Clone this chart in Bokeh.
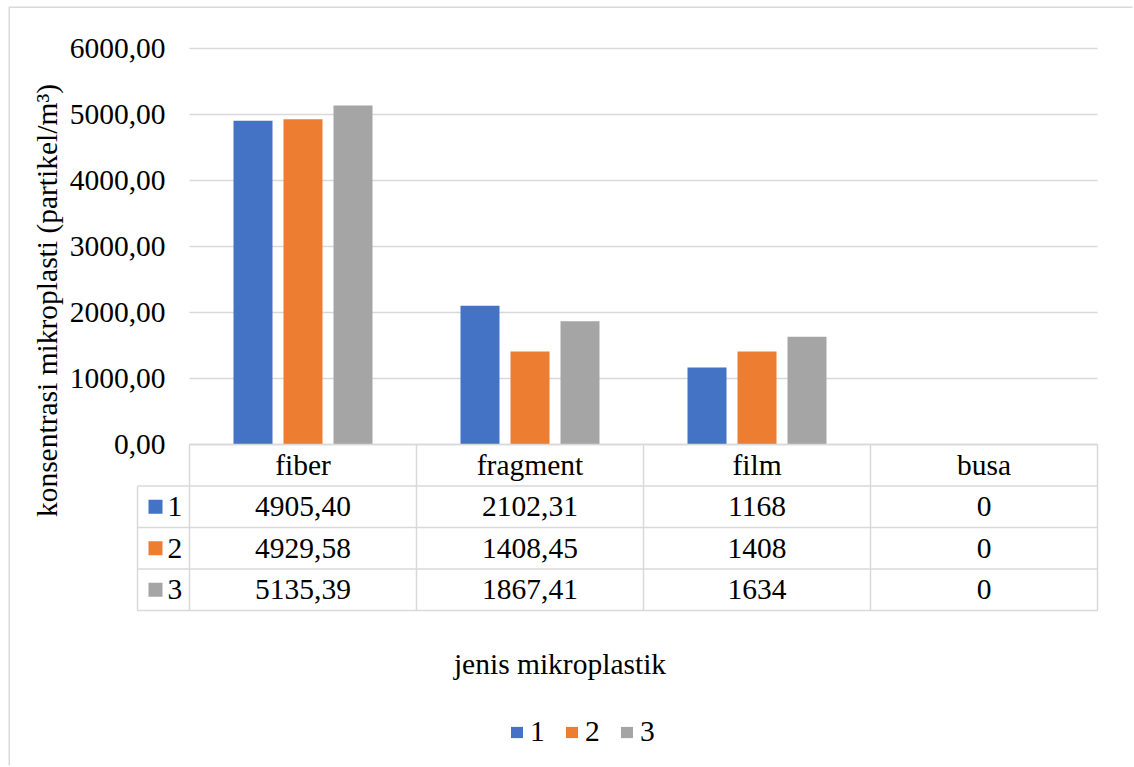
from bokeh.core.properties import value
from bokeh.embed import file_html
from bokeh.models import ColumnDataSource, FixedTicker, Legend, LegendItem, Range1d
from bokeh.plotting import figure
from bokeh.resources import INLINE

# ---- data -------------------------------------------------------------
categories = ["fiber", "fragment", "film", "busa"]
series_names = ["1", "2", "3"]
series_1 = [4905.40, 2102.31, 1168, 0]
series_2 = [4929.58, 1408.45, 1408, 0]
series_3 = [5135.39, 1867.41, 1634, 0]
table_decimals = [2, 2, 0, 0]          # number format used per column of the data table
y_ticks = [0, 1000, 2000, 3000, 4000, 5000, 6000]
x_title = "jenis mikroplastik"
y_title = "konsentrasi mikroplasti (partikel/m³)"

# ---- style / geometry --------------------------------------------------
colors = ["#4472C4", "#ED7D31", "#A5A5A5"]
FONT_NAME = "'Liberation Serif', 'Times New Roman', 'DejaVu Serif', serif"
FONT = value(FONT_NAME)
FS = "29.5px"
INK = "#000000"
RULE = "#D9D9D9"

OFF_X, OFF_Y = 10, 8                     # chart-area inset on the page
PAGE_W, PAGE_H = 1134, 767
W, H = PAGE_W - OFF_X, PAGE_H - OFF_Y
PLOT_L, PLOT_R, PLOT_T, ZERO_Y = 189, 1097, 48, 444   # page px
ROW_H = 41.5
COL_W = (PLOT_R - PLOT_L) / len(categories)
KEY_L = 137
BAR_W, BAR_STEP = 39, 50
Y_TITLE_MID = 300                        # vertical centre of the y-axis title


def sx(px):
    """page px -> category-column coordinate (column i spans i..i+1)"""
    return (px - PLOT_L) / COL_W


def row(py):
    """page px -> table-row coordinate (0 = top of the table, grows downward)"""
    return (py - ZERO_Y) / ROW_H


def fmt(v, d):
    return f"{v:.{d}f}".replace(".", ",")


px_per_unit = (ZERO_Y - PLOT_T) / max(y_ticks)
y_max = max(y_ticks)

p = figure(
    width=W, height=H,
    x_range=Range1d(sx(OFF_X), sx(PAGE_W)),
    y_range=Range1d(-(PAGE_H - ZERO_Y) / px_per_unit, y_max + (PLOT_T - OFF_Y) / px_per_unit),
    output_backend="svg", toolbar_location=None,
    min_border_left=0, min_border_right=0, min_border_top=0, min_border_bottom=0,
    x_axis_location=None,
)
p.extra_y_ranges = {"tbl": Range1d(row(PAGE_H), row(OFF_Y))}
p.margin = (OFF_Y, 0, 0, OFF_X)
p.styles = {"box-shadow": "-1.5px -1.5px 0 0 #D9D9D9"}
p.outline_line_color = None
p.background_fill_color = "white"
p.border_fill_color = "white"
p.xgrid.visible = False
p.ygrid.visible = False

# ---- y axis, pinned to the left edge of the plot area -------------------
ax = p.yaxis[0]
ax.fixed_location = 0
ax.ticker = FixedTicker(ticks=y_ticks)
# axis extent chosen so that its (centred) title sits where the chart puts it
ax.bounds = (-(2 * Y_TITLE_MID - PLOT_T - ZERO_Y) / px_per_unit, y_max)
ax.major_label_overrides = {t: fmt(t, 2) for t in y_ticks}
ax.axis_line_color = None
ax.major_tick_line_color = None
ax.minor_tick_line_color = None
ax.major_label_standoff = 18
ax.major_label_text_font = FONT_NAME
ax.major_label_text_font_size = FS
ax.major_label_text_color = INK
ax.axis_label = y_title
ax.axis_label_standoff = 4
ax.axis_label_text_font = FONT_NAME
ax.axis_label_text_font_size = FS
ax.axis_label_text_font_style = "normal"
ax.axis_label_text_color = INK

n_cols = len(categories)
# horizontal gridlines across the plot area at each tick
p.segment(x0=[0] * len(y_ticks), y0=y_ticks, x1=[n_cols] * len(y_ticks), y1=y_ticks,
          line_color=RULE, line_width=1.3)

# ---- bars ------------------------------------------------------------
series = [series_1, series_2, series_3]
centers = [i + 0.5 for i in range(n_cols)]
bar_renderers = []
for k, vals in enumerate(series):
    src = ColumnDataSource(dict(x=[c + (k - 1) * BAR_STEP / COL_W for c in centers],
                                top=vals, cat=categories))
    r = p.vbar(x="x", top="top", width=BAR_W / COL_W, source=src,
               fill_color=colors[k], line_color=None)
    bar_renderers.append(r)

# ---- data table under the plot ---------------------------------------
n_rows = 1 + len(series)
key_x = sx(KEY_L)
x0 = [0] + [key_x] * n_rows + [key_x] + list(range(n_cols + 1))
y0 = list(range(n_rows + 1)) + [1] + [0] * (n_cols + 1)
x1 = [n_cols] * (n_rows + 1) + [key_x] + list(range(n_cols + 1))
y1 = list(range(n_rows + 1)) + [n_rows] + [n_rows] * (n_cols + 1)
p.segment(x0=x0, y0=y0, x1=x1, y1=y1, y_range_name="tbl",
          line_color=RULE, line_width=1.5)

text_kw = dict(text_font=FONT, text_font_size=FS, text_color=INK,
               text_align="center", text_baseline="middle", y_range_name="tbl")

# header row: category names
p.text(x=centers, y=[0.5] * n_cols, text=categories, **text_kw)

# value rows
cell_x, cell_y, cell_t = [], [], []
for k, vals in enumerate(series):
    for c, v in enumerate(vals):
        cell_x.append(centers[c])
        cell_y.append(k + 1.5)
        cell_t.append(fmt(v, table_decimals[c]))
p.text(x=cell_x, y=cell_y, text=cell_t, **text_kw)

# legend keys in the first table column
key_rows = [k + 1.5 for k in range(len(series))]
p.rect(x=[sx(155)] * len(series), y=key_rows, width=14 / COL_W, height=14 / ROW_H,
       y_range_name="tbl", fill_color=colors, line_color=None)
p.text(x=[sx(167)] * len(series), y=key_rows, text=series_names,
       **{**text_kw, "text_align": "left"})

# ---- x-axis title -----------------------------------------------------
p.text(x=[sx(559.5)], y=[row(663)], text=[x_title], **text_kw)

# ---- legend -----------------------------------------------------------
legend = Legend(
    items=[LegendItem(label=n, renderers=[r]) for n, r in zip(series_names, bar_renderers)],
    orientation="horizontal", location=(509 - OFF_X, PAGE_H - 748),
    label_text_font=FONT_NAME, label_text_font_size=FS, label_text_color=INK,
    glyph_width=15, glyph_height=14, label_standoff=6, spacing=14,
    padding=0, margin=0, border_line_color=None, background_fill_alpha=0,
)
p.add_layout(legend)

open("out.html", "w").write(file_html(p, INLINE))
